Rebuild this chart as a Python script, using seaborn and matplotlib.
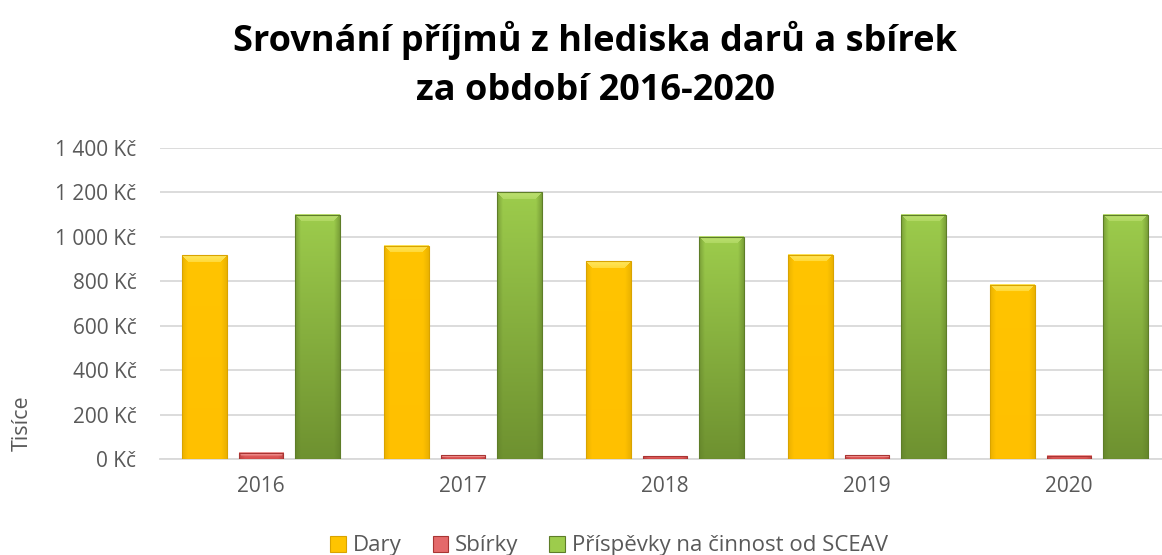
import numpy as np
import pandas as pd
import matplotlib
matplotlib.use("Agg")
import matplotlib.pyplot as plt
import matplotlib.colors as mcolors
from matplotlib.patches import Patch
import seaborn as sns

years = ["2016", "2017", "2018", "2019", "2020"]
series = ["Dary", "Sbírky", "Příspěvky na činnost od SCEAV"]
dary = [918, 960, 890, 920, 785]
sbirky = [28, 17, 12, 16, 15]
prispevky = [1100, 1200, 1000, 1100, 1100]
yticks = [0, 200, 400, 600, 800, 1000, 1200, 1400]
ytick_labels = ["0 Kč", "200 Kč", "400 Kč", "600 Kč", "800 Kč", "1 000 Kč", "1 200 Kč", "1 400 Kč"]

df = pd.DataFrame({
    "rok": years * 3,
    "rada": [series[0]] * 5 + [series[1]] * 5 + [series[2]] * 5,
    "hodnota": dary + sbirky + prispevky,
})

sns.set_theme(style="white")
plt.rcParams['font.family'] = ['Open Sans', 'DejaVu Sans']

W, H = 1162, 555
fig = plt.figure(figsize=(W / 100, H / 100), dpi=100)
ax = fig.add_axes([160 / W, 1 - 459 / H, 1010 / W, 311 / H])

palette = {series[0]: "#FFC000", series[1]: "#E0605E", series[2]: "#8BB640"}
sns.barplot(data=df, x="rok", y="hodnota", hue="rada", hue_order=series, order=years,
            palette=palette, width=0.84, gap=0.21, ax=ax, legend=False, saturation=1)

ax.set_ylim(0, 1400)
ax.set_xlim(-0.5, 4.5)
ax.set_yticks(yticks)
ax.set_yticklabels(ytick_labels)
ax.yaxis.grid(True, color="#D9D9D9", linewidth=1.3)
ax.set_axisbelow(True)
for s in ["top", "right", "left"]:
    ax.spines[s].set_visible(False)
ax.spines["bottom"].set_color("#D9D9D9")
ax.spines["bottom"].set_linewidth(1.3)
ax.tick_params(axis="both", length=0, colors="#595959", labelsize=15)
ax.tick_params(axis="x", pad=12)
ax.tick_params(axis="y", pad=17)
ax.set_xlabel("")
ax.set_ylabel("")

# shading styles per series: (main top, main bottom, bevel, side)
styles = [
    ("#FFC400", "#FFC000", "#FFE65C", "#D9A300"),
    ("#E4696A", "#D9504E", "#F29A98", "#A83533"),
    ("#9DCC4C", "#6E9130", "#BCE070", "#5E7D28"),
]
px_per_unit = 311 / 1400
px_per_cat = 202

n = len(years)
for i, p in enumerate(ax.patches[: n * 3]):
    si = i // n
    top_c, bot_c, bev_c, side_c = [np.array(mcolors.to_rgb(c)) for c in styles[si]]
    x0, y0 = p.get_x(), p.get_y()
    w, h = p.get_width(), p.get_height()
    hp = max(int(round(h * px_per_unit)), 2)
    wp = max(int(round(w * px_per_cat)), 2)
    t = np.linspace(0, 1, hp)[:, None]
    img = top_c[None, None, :] * (1 - t[..., None]) + bot_c[None, None, :] * t[..., None]
    img = np.repeat(img, wp, axis=1)
    xs = np.linspace(-1, 1, wp)
    shade = np.clip((np.abs(xs) - 0.75) / 0.25, 0, 1)[None, :, None]
    img = img * (1 - 0.5 * shade) + side_c[None, None, :] * 0.5 * shade
    bev = min(7, hp // 2)
    for r in range(bev):
        img[r, r: wp - r, :] = bev_c * (1 - r / (bev * 2.5)) + img[r, r: wp - r, :] * (r / (bev * 2.5))
    ax.imshow(img, extent=[x0, x0 + w, y0, y0 + h], aspect="auto", origin="upper",
              zorder=3, clip_path=p, clip_on=True, interpolation="bilinear")
    p.set_facecolor("none")
    p.set_edgecolor(side_c)
    p.set_linewidth(0.8)
    p.set_zorder(4)

ax.set_xlim(-0.5, 4.5)
ax.set_ylim(0, 1400)

fig.text(595 / W, 1 - 40 / H, "Srovnání příjmů z hlediska darů a sbírek", ha="center", va="center",
         fontsize=26, fontweight="bold", color="#000000")
fig.text(595 / W, 1 - 91 / H, "za období 2016-2020", ha="center", va="center",
         fontsize=26, fontweight="bold", color="#000000")
fig.text(22 / W, 1 - 423 / H, "Tisíce", rotation=90, ha="center", va="center",
         fontsize=15.5, color="#595959")

handles = [Patch(facecolor=styles[k][0], edgecolor=styles[k][3], linewidth=0.8) for k in range(3)]
fig.legend(handles, series, loc="center", bbox_to_anchor=(609 / W, 1 - 546 / H), ncol=3,
           frameon=False, fontsize=16, labelcolor="#595959", handlelength=0.7, handleheight=0.7,
           handletextpad=0.3, columnspacing=1.4)

fig.savefig("out.png", dpi=100)
